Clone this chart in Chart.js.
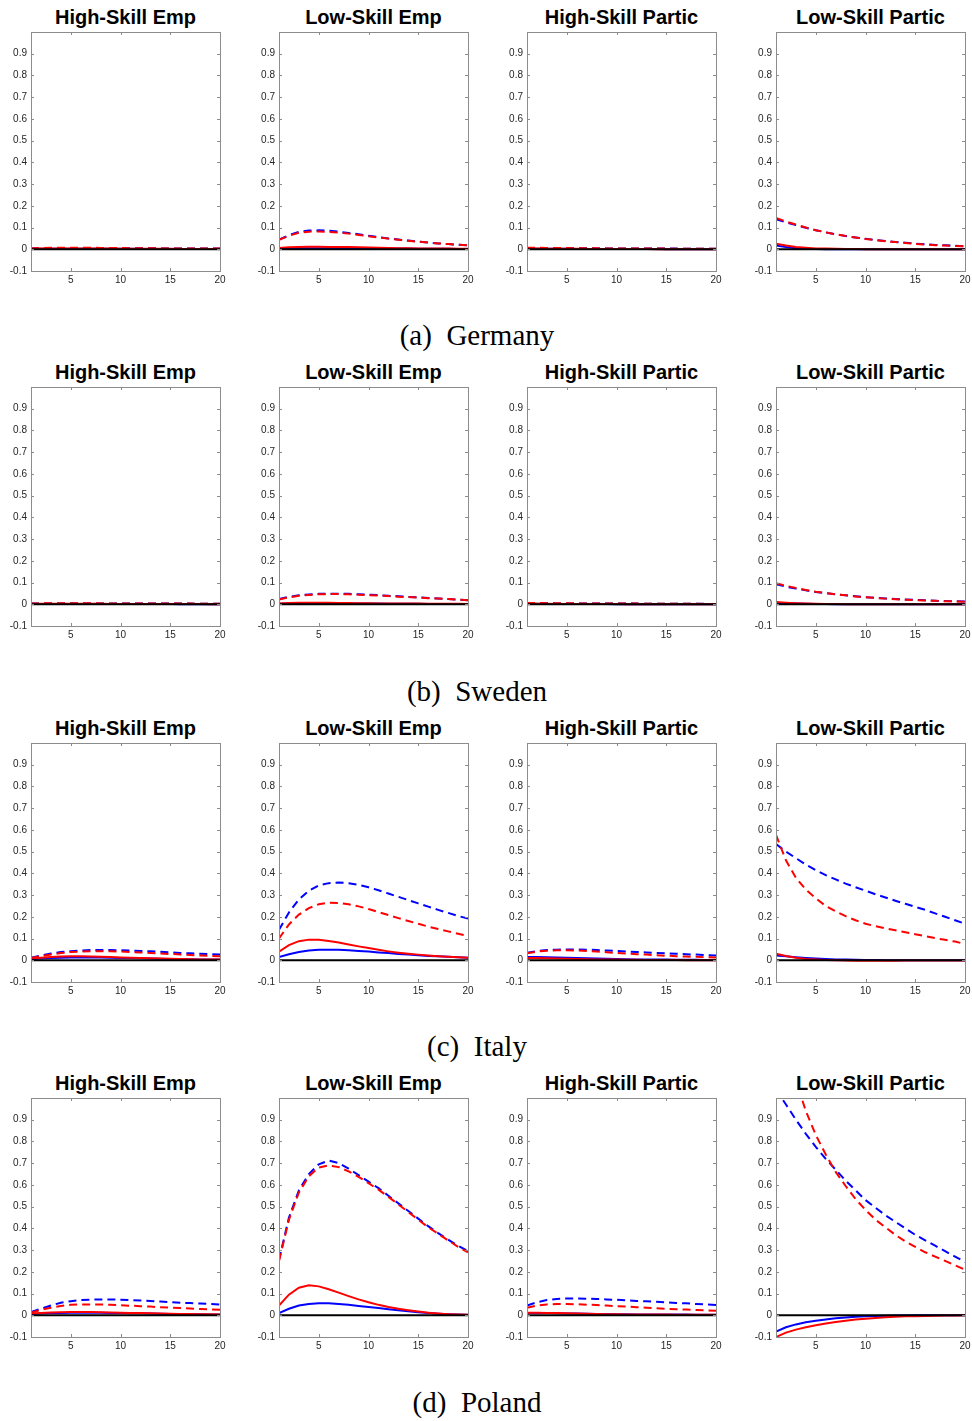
<!DOCTYPE html>
<html>
<head>
<meta charset="utf-8">
<script src="https://cdn.jsdelivr.net/npm/chart.js@4.4.1/dist/chart.umd.min.js"></script>
<style>
    body { margin: 0; background: #fff; width: 972px; height: 1421px; position: relative; overflow: hidden; }
    .panel { position: absolute; }
    .ptitle { position: absolute; font: bold 20px "Liberation Sans", Arial, sans-serif; color: #000; text-align: center; line-height: 22px; white-space: nowrap; }
    .caption { position: absolute; left: 0; width: 954px; text-align: center; font: 29px "Liberation Serif", "Times New Roman", serif; color: #000; line-height: 32px; }
</style>
</head>
<body>
<script>
// Ortak eksenler
const quarters = [1, 2, 3, 4, 5, 6, 7, 8, 9, 10, 11, 12, 13, 14, 15, 16, 17, 18, 19, 20];
const xTickValues = [5, 10, 15, 20];
const yTickValues = [-0.1, 0, 0.1, 0.2, 0.3, 0.4, 0.5, 0.6, 0.7, 0.8, 0.9];
const zeroLine = [0, 0, 0, 0, 0, 0, 0, 0, 0, 0, 0, 0, 0, 0, 0, 0, 0, 0, 0, 0];

const panelTitles = ["High-Skill Emp", "Low-Skill Emp", "High-Skill Partic", "Low-Skill Partic"];
const countryCaptions = ["(a)\u2002Germany", "(b)\u2002Sweden", "(c)\u2002Italy", "(d)\u2002Poland"];

// Her dizide 4 panel: HS Emp, LS Emp, HS Partic, LS Partic
const germanyBlueSolid = [
    [0.001, 0.002, 0.002, 0.002, 0.002, 0.002, 0.002, 0.002, 0.002, 0.002, 0.002, 0.001, 0.001, 0.001, 0.001, 0.001, 0.001, 0.001, 0.001, 0.001],
    [0.003, 0.004, 0.005, 0.005, 0.005, 0.005, 0.005, 0.005, 0.004, 0.004, 0.004, 0.003, 0.003, 0.003, 0.002, 0.002, 0.002, 0.002, 0.001, 0.001],
    [0.002, 0.002, 0.002, 0.002, 0.002, 0.001, 0.001, 0.001, 0.001, 0.001, 0.001, 0.001, 0.001, 0.001, 0.000, 0.000, 0.000, 0.000, 0.000, 0.000],
    [0.018, 0.010, 0.005, 0.002, 0.001, 0.000, 0.000, 0.000, 0.000, 0.000, 0.000, 0.000, 0.000, 0.000, 0.000, 0.000, 0.000, 0.000, 0.000, 0.000]
];
const germanyRedSolid = [
    [0.002, 0.003, 0.003, 0.003, 0.003, 0.003, 0.003, 0.003, 0.003, 0.002, 0.002, 0.002, 0.002, 0.002, 0.002, 0.001, 0.001, 0.001, 0.001, 0.001],
    [0.006, 0.009, 0.011, 0.012, 0.012, 0.011, 0.011, 0.010, 0.009, 0.008, 0.007, 0.006, 0.005, 0.005, 0.004, 0.004, 0.003, 0.003, 0.002, 0.002],
    [0.003, 0.003, 0.002, 0.002, 0.002, 0.002, 0.001, 0.001, 0.001, 0.001, 0.001, 0.001, 0.001, 0.000, 0.000, 0.000, 0.000, 0.000, 0.000, 0.000],
    [0.025, 0.017, 0.011, 0.007, 0.004, 0.003, 0.002, 0.001, 0.001, 0.000, 0.000, 0.000, 0.000, 0.000, 0.000, 0.000, 0.000, 0.000, 0.000, 0.000]
];
const germanyBlueDash = [
    [0.004, 0.005, 0.006, 0.006, 0.006, 0.006, 0.006, 0.006, 0.006, 0.005, 0.005, 0.005, 0.005, 0.004, 0.004, 0.004, 0.004, 0.004, 0.003, 0.003],
    [0.045, 0.065, 0.080, 0.086, 0.087, 0.085, 0.081, 0.075, 0.069, 0.062, 0.056, 0.050, 0.045, 0.040, 0.035, 0.031, 0.027, 0.024, 0.021, 0.018],
    [0.006, 0.006, 0.006, 0.005, 0.005, 0.005, 0.005, 0.004, 0.004, 0.004, 0.004, 0.003, 0.003, 0.003, 0.003, 0.003, 0.002, 0.002, 0.002, 0.002],
    [0.138, 0.124, 0.111, 0.099, 0.088, 0.078, 0.069, 0.061, 0.054, 0.048, 0.043, 0.038, 0.034, 0.030, 0.026, 0.023, 0.020, 0.018, 0.016, 0.014]
];
const germanyRedDash = [
    [0.004, 0.006, 0.007, 0.007, 0.007, 0.007, 0.007, 0.006, 0.006, 0.006, 0.005, 0.005, 0.005, 0.004, 0.004, 0.004, 0.004, 0.003, 0.003, 0.003],
    [0.043, 0.062, 0.076, 0.081, 0.082, 0.080, 0.077, 0.072, 0.066, 0.060, 0.054, 0.049, 0.044, 0.039, 0.035, 0.031, 0.027, 0.024, 0.021, 0.018],
    [0.007, 0.007, 0.006, 0.006, 0.006, 0.005, 0.005, 0.005, 0.004, 0.004, 0.004, 0.003, 0.003, 0.003, 0.003, 0.002, 0.002, 0.002, 0.002, 0.002],
    [0.144, 0.128, 0.114, 0.100, 0.088, 0.078, 0.069, 0.061, 0.054, 0.047, 0.042, 0.037, 0.033, 0.029, 0.025, 0.022, 0.019, 0.017, 0.015, 0.013]
];

const swedenBlueSolid = [
    [0.001, 0.001, 0.001, 0.001, 0.001, 0.001, 0.001, 0.001, 0.001, 0.001, 0.001, 0.001, 0.001, 0.001, 0.001, 0.000, 0.000, 0.000, 0.000, 0.000],
    [0.002, 0.003, 0.004, 0.004, 0.004, 0.004, 0.004, 0.003, 0.003, 0.003, 0.003, 0.002, 0.002, 0.002, 0.002, 0.001, 0.001, 0.001, 0.001, 0.001],
    [0.002, 0.002, 0.001, 0.001, 0.001, 0.001, 0.001, 0.001, 0.001, 0.000, 0.000, 0.000, 0.000, 0.000, 0.000, 0.000, 0.000, 0.000, 0.000, 0.000],
    [0.007, 0.005, 0.003, 0.002, 0.001, 0.001, 0.000, 0.000, 0.000, 0.000, 0.000, 0.000, 0.000, 0.000, 0.000, 0.000, 0.000, 0.000, 0.000, 0.000]
];
const swedenRedSolid = [
    [0.001, 0.002, 0.002, 0.002, 0.002, 0.002, 0.002, 0.002, 0.001, 0.001, 0.001, 0.001, 0.001, 0.001, 0.001, 0.001, 0.001, 0.001, 0.000, 0.000],
    [0.004, 0.006, 0.007, 0.007, 0.007, 0.007, 0.006, 0.006, 0.005, 0.005, 0.004, 0.004, 0.003, 0.003, 0.003, 0.002, 0.002, 0.002, 0.002, 0.001],
    [0.002, 0.002, 0.002, 0.001, 0.001, 0.001, 0.001, 0.001, 0.001, 0.001, 0.000, 0.000, 0.000, 0.000, 0.000, 0.000, 0.000, 0.000, 0.000, 0.000],
    [0.010, 0.007, 0.005, 0.003, 0.002, 0.001, 0.001, 0.000, 0.000, 0.000, 0.000, 0.000, 0.000, 0.000, 0.000, 0.000, 0.000, 0.000, 0.000, 0.000]
];
const swedenBlueDash = [
    [0.003, 0.004, 0.004, 0.004, 0.004, 0.004, 0.004, 0.004, 0.004, 0.004, 0.004, 0.003, 0.003, 0.003, 0.003, 0.003, 0.003, 0.002, 0.002, 0.002],
    [0.024, 0.034, 0.041, 0.045, 0.048, 0.049, 0.049, 0.048, 0.046, 0.044, 0.042, 0.039, 0.037, 0.034, 0.032, 0.029, 0.027, 0.024, 0.022, 0.019],
    [0.005, 0.005, 0.005, 0.004, 0.004, 0.004, 0.004, 0.003, 0.003, 0.003, 0.003, 0.003, 0.002, 0.002, 0.002, 0.002, 0.002, 0.002, 0.002, 0.001],
    [0.092, 0.081, 0.072, 0.064, 0.057, 0.051, 0.046, 0.041, 0.037, 0.033, 0.030, 0.027, 0.024, 0.022, 0.020, 0.018, 0.016, 0.015, 0.014, 0.013]
];
const swedenRedDash = [
    [0.003, 0.004, 0.005, 0.005, 0.005, 0.005, 0.005, 0.004, 0.004, 0.004, 0.004, 0.004, 0.003, 0.003, 0.003, 0.003, 0.003, 0.002, 0.002, 0.002],
    [0.022, 0.032, 0.039, 0.043, 0.046, 0.047, 0.047, 0.046, 0.044, 0.042, 0.040, 0.038, 0.035, 0.033, 0.031, 0.028, 0.026, 0.024, 0.021, 0.019],
    [0.006, 0.006, 0.005, 0.005, 0.005, 0.004, 0.004, 0.004, 0.003, 0.003, 0.003, 0.003, 0.002, 0.002, 0.002, 0.002, 0.002, 0.002, 0.001, 0.001],
    [0.097, 0.085, 0.075, 0.066, 0.058, 0.052, 0.046, 0.041, 0.036, 0.032, 0.029, 0.026, 0.023, 0.021, 0.019, 0.017, 0.016, 0.014, 0.013, 0.012]
];

const italyBlueSolid = [
    [0.005, 0.008, 0.010, 0.012, 0.013, 0.013, 0.013, 0.013, 0.012, 0.011, 0.010, 0.009, 0.008, 0.007, 0.006, 0.005, 0.005, 0.004, 0.004, 0.003],
    [0.015, 0.028, 0.038, 0.045, 0.048, 0.049, 0.048, 0.046, 0.043, 0.040, 0.036, 0.033, 0.029, 0.026, 0.023, 0.020, 0.018, 0.016, 0.014, 0.012],
    [0.015, 0.015, 0.014, 0.013, 0.012, 0.011, 0.009, 0.008, 0.007, 0.006, 0.005, 0.004, 0.004, 0.003, 0.003, 0.002, 0.002, 0.002, 0.001, 0.001],
    [0.022, 0.018, 0.014, 0.011, 0.008, 0.006, 0.004, 0.003, 0.002, 0.001, 0.001, 0.000, 0.000, 0.000, 0.000, 0.000, 0.000, 0.000, 0.000, 0.000]
];
const italyRedSolid = [
    [0.008, 0.012, 0.015, 0.017, 0.018, 0.018, 0.017, 0.016, 0.015, 0.013, 0.012, 0.010, 0.009, 0.008, 0.007, 0.006, 0.005, 0.004, 0.004, 0.003],
    [0.040, 0.070, 0.088, 0.095, 0.094, 0.089, 0.082, 0.073, 0.064, 0.056, 0.048, 0.041, 0.035, 0.030, 0.026, 0.022, 0.019, 0.016, 0.014, 0.012],
    [0.010, 0.010, 0.009, 0.008, 0.007, 0.006, 0.005, 0.004, 0.003, 0.003, 0.002, 0.002, 0.001, 0.001, 0.001, 0.001, 0.000, 0.000, 0.000, 0.000],
    [0.030, 0.020, 0.012, 0.006, 0.003, 0.001, 0.000, -0.001, -0.002, -0.002, -0.002, -0.002, -0.002, -0.001, -0.001, -0.001, -0.001, -0.001, -0.001, -0.001]
];
const italyBlueDash = [
    [0.012, 0.022, 0.031, 0.038, 0.042, 0.045, 0.047, 0.047, 0.047, 0.046, 0.045, 0.043, 0.041, 0.039, 0.037, 0.034, 0.032, 0.030, 0.028, 0.026],
    [0.140, 0.220, 0.280, 0.320, 0.345, 0.355, 0.358, 0.355, 0.347, 0.336, 0.322, 0.307, 0.292, 0.277, 0.262, 0.247, 0.232, 0.218, 0.204, 0.192],
    [0.035, 0.042, 0.047, 0.049, 0.050, 0.050, 0.049, 0.047, 0.045, 0.043, 0.040, 0.038, 0.036, 0.034, 0.032, 0.030, 0.028, 0.026, 0.024, 0.022],
    [0.535, 0.500, 0.470, 0.440, 0.415, 0.392, 0.372, 0.353, 0.336, 0.320, 0.304, 0.289, 0.274, 0.260, 0.246, 0.232, 0.216, 0.200, 0.184, 0.168]
];
const italyRedDash = [
    [0.010, 0.019, 0.027, 0.033, 0.038, 0.040, 0.042, 0.042, 0.041, 0.040, 0.038, 0.036, 0.034, 0.031, 0.029, 0.027, 0.024, 0.022, 0.020, 0.018],
    [0.100, 0.165, 0.210, 0.240, 0.258, 0.265, 0.264, 0.258, 0.248, 0.236, 0.222, 0.208, 0.194, 0.181, 0.168, 0.155, 0.144, 0.133, 0.122, 0.112],
    [0.032, 0.040, 0.044, 0.046, 0.046, 0.045, 0.043, 0.040, 0.037, 0.034, 0.031, 0.028, 0.026, 0.023, 0.021, 0.019, 0.017, 0.016, 0.014, 0.013],
    [0.577, 0.460, 0.380, 0.325, 0.285, 0.250, 0.225, 0.203, 0.184, 0.168, 0.157, 0.147, 0.138, 0.129, 0.120, 0.111, 0.102, 0.094, 0.086, 0.075]
];

const polandBlueSolid = [
    [0.006, 0.008, 0.010, 0.011, 0.012, 0.012, 0.012, 0.012, 0.011, 0.010, 0.009, 0.009, 0.008, 0.007, 0.006, 0.006, 0.005, 0.005, 0.004, 0.004],
    [0.010, 0.030, 0.045, 0.052, 0.055, 0.055, 0.052, 0.048, 0.043, 0.038, 0.033, 0.028, 0.023, 0.018, 0.014, 0.010, 0.007, 0.005, 0.003, 0.002],
    [0.010, 0.010, 0.010, 0.009, 0.008, 0.008, 0.007, 0.006, 0.006, 0.005, 0.005, 0.004, 0.004, 0.003, 0.003, 0.003, 0.003, 0.002, 0.002, 0.002],
    [-0.075, -0.055, -0.042, -0.032, -0.025, -0.019, -0.014, -0.010, -0.007, -0.005, -0.003, -0.002, -0.001, -0.001, 0.000, 0.000, 0.000, 0.000, 0.000, 0.000]
];
const polandRedSolid = [
    [0.008, 0.011, 0.013, 0.014, 0.015, 0.015, 0.015, 0.014, 0.013, 0.012, 0.011, 0.010, 0.009, 0.008, 0.007, 0.006, 0.006, 0.005, 0.005, 0.004],
    [0.045, 0.095, 0.127, 0.138, 0.133, 0.120, 0.104, 0.088, 0.073, 0.060, 0.048, 0.038, 0.030, 0.023, 0.017, 0.012, 0.008, 0.005, 0.003, 0.002],
    [0.012, 0.012, 0.011, 0.010, 0.009, 0.008, 0.007, 0.006, 0.005, 0.005, 0.004, 0.004, 0.003, 0.003, 0.003, 0.002, 0.002, 0.002, 0.002, 0.002],
    [-0.100, -0.080, -0.066, -0.055, -0.046, -0.038, -0.031, -0.025, -0.020, -0.016, -0.012, -0.009, -0.007, -0.005, -0.004, -0.003, -0.002, -0.001, -0.001, 0.000]
];
const polandBlueDash = [
    [0.015, 0.030, 0.045, 0.058, 0.065, 0.070, 0.072, 0.073, 0.073, 0.072, 0.070, 0.068, 0.066, 0.063, 0.061, 0.058, 0.056, 0.054, 0.052, 0.050],
    [0.255, 0.450, 0.575, 0.650, 0.695, 0.712, 0.700, 0.675, 0.645, 0.615, 0.585, 0.550, 0.515, 0.480, 0.445, 0.410, 0.378, 0.348, 0.320, 0.295],
    [0.045, 0.060, 0.070, 0.075, 0.077, 0.077, 0.076, 0.075, 0.073, 0.071, 0.069, 0.066, 0.064, 0.062, 0.060, 0.057, 0.055, 0.052, 0.050, 0.047],
    [1.040, 0.970, 0.900, 0.835, 0.775, 0.720, 0.670, 0.620, 0.575, 0.530, 0.495, 0.460, 0.430, 0.400, 0.370, 0.345, 0.320, 0.295, 0.270, 0.245]
];
const polandRedDash = [
    [0.012, 0.025, 0.035, 0.043, 0.048, 0.050, 0.050, 0.050, 0.048, 0.046, 0.044, 0.042, 0.040, 0.037, 0.035, 0.033, 0.031, 0.029, 0.027, 0.025],
    [0.250, 0.440, 0.565, 0.640, 0.680, 0.690, 0.682, 0.662, 0.637, 0.608, 0.578, 0.545, 0.510, 0.475, 0.440, 0.405, 0.375, 0.345, 0.315, 0.290],
    [0.035, 0.045, 0.050, 0.052, 0.052, 0.051, 0.049, 0.047, 0.045, 0.042, 0.040, 0.037, 0.035, 0.032, 0.030, 0.028, 0.026, 0.024, 0.023, 0.021],
    [1.450, 1.250, 1.080, 0.940, 0.830, 0.740, 0.660, 0.595, 0.535, 0.485, 0.440, 0.405, 0.370, 0.340, 0.315, 0.290, 0.270, 0.250, 0.230, 0.210]
];

const countries = [
    [germanyBlueSolid, germanyRedSolid, germanyBlueDash, germanyRedDash],
    [swedenBlueSolid, swedenRedSolid, swedenBlueDash, swedenRedDash],
    [italyBlueSolid, italyRedSolid, italyBlueDash, italyRedDash],
    [polandBlueSolid, polandRedSolid, polandBlueDash, polandRedDash]
];

// Yerleşim (px)
const PLOT_LEFT = [31, 279, 527, 776];
const PLOT_W = 189;
const PLOT_H = 238.5;
const ROW_TOP = [31.7, 387.2, 742.7, 1098.2];
const PAD_L = 32, PAD_T = 4, PAD_R = 12, PAD_B = 22;

const BOX_COLOR = "#8c8c8c";

// MATLAB tarzı kutu ve içe dönük tik çizgileri
const boxPlugin = {
    id: "matlabBox",
    afterDatasetsDraw(chart) {
        const { ctx, chartArea: a, scales } = chart;
        ctx.save();
        ctx.strokeStyle = BOX_COLOR;
        ctx.lineWidth = 1;
        ctx.beginPath();
        scales.y.ticks.forEach((t) => {
            const py = Math.round(scales.y.getPixelForValue(t.value)) + 0.5;
            ctx.moveTo(a.left, py); ctx.lineTo(a.left + 3, py);
            ctx.moveTo(a.right, py); ctx.lineTo(a.right - 3, py);
        });
        scales.x.ticks.forEach((t) => {
            const px = Math.round(scales.x.getPixelForValue(t.value)) + 0.5;
            ctx.moveTo(px, a.bottom); ctx.lineTo(px, a.bottom - 3);
            ctx.moveTo(px, a.top); ctx.lineTo(px, a.top + 3);
        });
        ctx.stroke();
        ctx.strokeRect(Math.round(a.left) + 0.5, Math.round(a.top) + 0.5,
            Math.round(a.right - a.left), Math.round(a.bottom - a.top));
        ctx.restore();
    }
};

function toPoints(values) {
    return quarters.map((q, i) => ({ x: q, y: values[i] }));
}

function makeLine(values, color, dashed) {
    return {
        data: toPoints(values),
        borderColor: color,
        borderWidth: 2,
        borderDash: dashed ? [8, 5] : [],
        pointRadius: 0,
        tension: 0,
        fill: false
    };
}

// Eksen etiketlerinin ekstra kenar boşluğunu sıfırla (çizim alanı sabit kalsın)
function noScalePadding(scale) {
    scale.paddingTop = 0;
    scale.paddingBottom = 0;
    scale.paddingLeft = 0;
    scale.paddingRight = 0;
}

function createPanel(row, col) {
    const [blueSolid, redSolid, blueDash, redDash] = countries[row];
    const left = PLOT_LEFT[col];
    const top = ROW_TOP[row];

    const title = document.createElement("div");
    title.className = "ptitle";
    title.style.left = left + "px";
    title.style.width = PLOT_W + "px";
    title.style.top = (top - 26) + "px";
    title.textContent = panelTitles[col];
    document.body.appendChild(title);

    const canvas = document.createElement("canvas");
    canvas.className = "panel";
    const w = PAD_L + PLOT_W + PAD_R;
    const h = Math.round(PAD_T + PLOT_H + PAD_B);
    canvas.width = w;
    canvas.height = h;
    canvas.style.left = (left - PAD_L) + "px";
    canvas.style.top = (top - PAD_T) + "px";
    canvas.style.width = w + "px";
    canvas.style.height = h + "px";
    document.body.appendChild(canvas);

    const tickFont = { family: "'Liberation Sans', Arial, sans-serif", size: 10 };

    new Chart(canvas.getContext("2d"), {
        type: "line",
        data: {
            datasets: [
                makeLine(zeroLine, "#000000", false),
                makeLine(redDash[col], "#ff0000", true),
                makeLine(blueDash[col], "#0000ff", true),
                makeLine(redSolid[col], "#ff0000", false),
                makeLine(blueSolid[col], "#0000ff", false)
            ]
        },
        options: {
            responsive: false,
            animation: false,
            events: [],
            layout: { padding: { left: 0, top: PAD_T, right: PAD_R, bottom: 0 } },
            plugins: { legend: { display: false }, tooltip: { enabled: false } },
            scales: {
                x: {
                    type: "linear",
                    min: 1,
                    max: 20,
                    afterBuildTicks: (scale) => { scale.ticks = xTickValues.map((v) => ({ value: v })); },
                    afterFit: (scale) => { scale.height = PAD_B; noScalePadding(scale); },
                    ticks: { font: tickFont, color: "#262626", padding: 3, maxRotation: 0, callback: (v) => String(v) },
                    grid: { drawOnChartArea: false, drawTicks: false },
                    border: { display: false }
                },
                y: {
                    min: -0.1,
                    max: 1.0,
                    afterBuildTicks: (scale) => { scale.ticks = yTickValues.map((v) => ({ value: v })); },
                    afterFit: (scale) => { scale.width = PAD_L; noScalePadding(scale); },
                    ticks: { font: tickFont, color: "#262626", padding: 4, callback: (v) => String(v) },
                    grid: { drawOnChartArea: false, drawTicks: false },
                    border: { display: false }
                }
            }
        },
        plugins: [boxPlugin]
    });
}

for (let r = 0; r < 4; r++) {
    for (let c = 0; c < 4; c++) createPanel(r, c);
    const cap = document.createElement("div");
    cap.className = "caption";
    cap.style.top = (ROW_TOP[r] + 303.5 - 16) + "px";
    cap.textContent = countryCaptions[r];
    document.body.appendChild(cap);
}
</script>
</body>
</html>
